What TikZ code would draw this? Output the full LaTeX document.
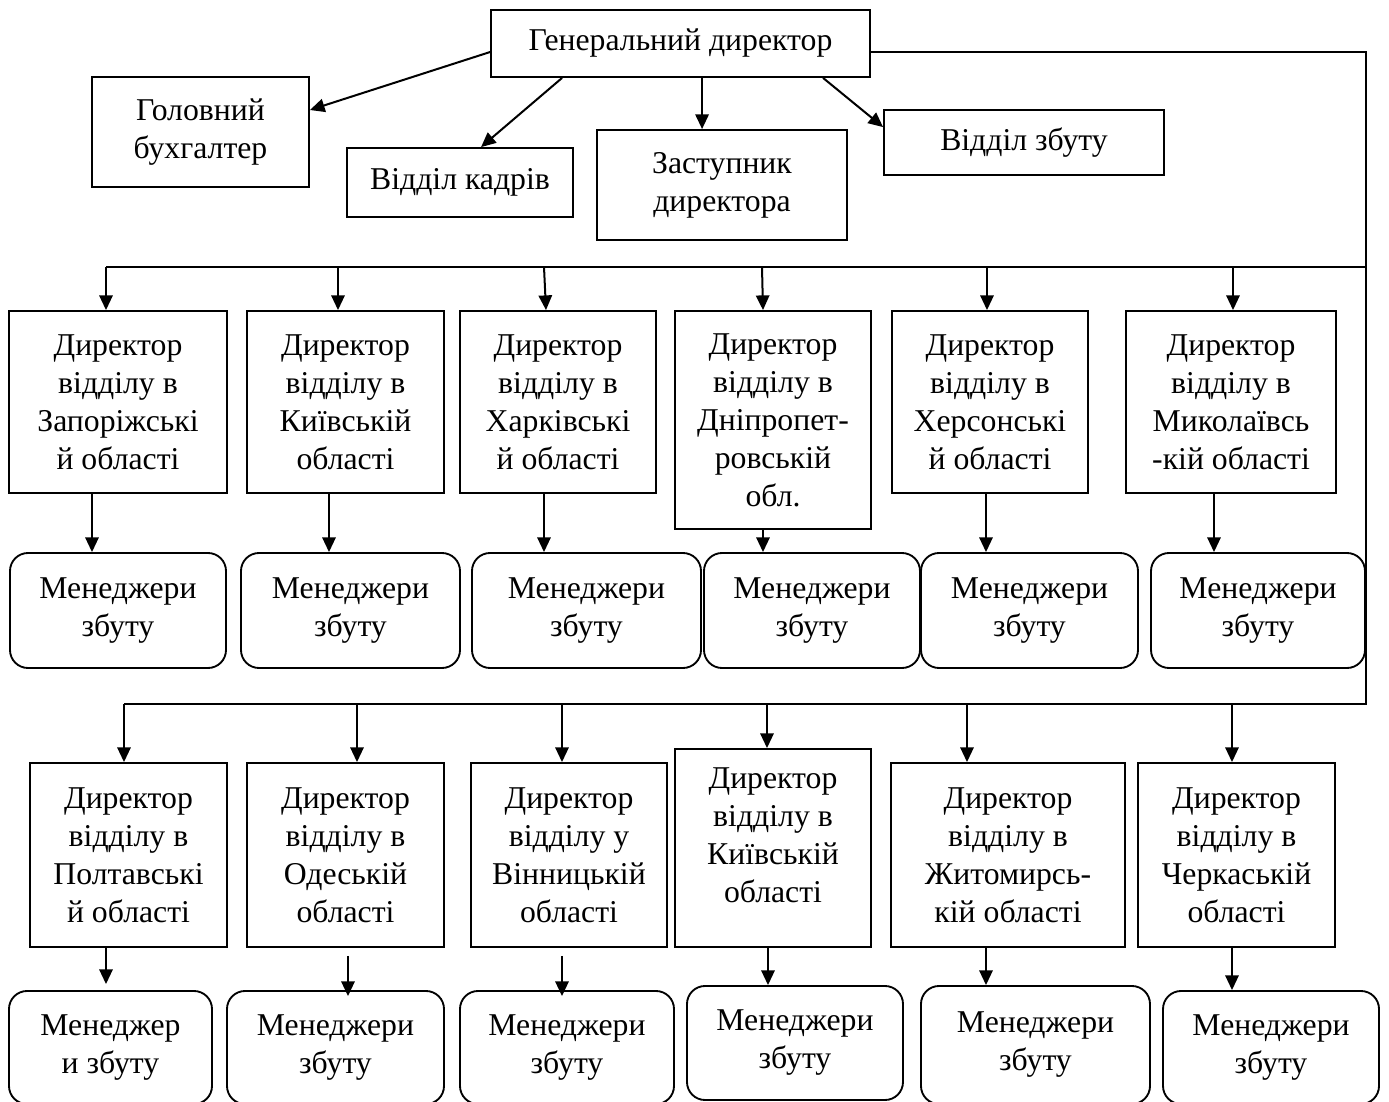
\documentclass[tikz,border=0pt]{standalone}
\usepackage{fontspec}
\setmainfont{Liberation Serif}
\usetikzlibrary{arrows.meta,calc}
\newcommand{\rbox}[7][bx]{\node[#1, minimum width={(#4-#2)*0.75pt}, minimum height={(#5-#3)*0.75pt}] (#6) at ({(#2+#4)/2},{(#3+#5)/2}) {#7};}
\begin{document}
\begin{tikzpicture}[x=0.75pt,y=-0.75pt,
  bx/.style={draw, line width=1.4pt, inner sep=0pt, align=center, font=\fontsize{23.8}{28.5}\selectfont},
  mg/.style={bx, rounded corners=13.5pt},
  ln/.style={line width=1.5pt},
  arr/.style={ln, -{Triangle[length=11pt,width=10pt]}}]
\useasboundingbox (0,0) rectangle (1389,1102);
% top level
\rbox{491}{10}{870}{77}{gd}{Генеральний директор}
\rbox{92}{77}{309}{187}{gb}{Головний\\бухгалтер}
\rbox{347}{148}{573}{217}{vk}{Відділ кадрів}
\rbox{597}{130}{847}{240}{zd}{Заступник\\директора}
\rbox{884}{110}{1164}{175}{vz}{Відділ збуту}
\draw[arr] ([yshift=-6.4pt]gd.west) -- ([yshift=16.5pt]gb.east);
\draw[arr] ($(gd.south west)+(72,0)$) -- ($(vk.north west)+(135,0)$);
\draw[arr] ($(gd.south west)+(212,0)$) -- ($(zd.north west)+(106,0)$);
\draw[arr] ($(gd.south west)+(333,0)$) -- ($(vz.north west)+(0,18)$);
% buses
\coordinate (c2) at (1366,267);
\coordinate (c3) at (1366,704);
\coordinate (l2) at (106,267);
\coordinate (l3) at (124,704);
\draw[ln] ([yshift=-6.4pt]gd.east) -| (c3) -- (l3);
\draw[ln] (c2) -- (l2);
% row 2 directors
\rbox{9}{311}{227}{493}{a1}{Директор\\відділу в\\Запоріжські\\й області}
\rbox{247}{311}{444}{493}{a2}{Директор\\відділу в\\Київській\\області}
\rbox{460}{311}{656}{493}{a3}{Директор\\відділу в\\Харківські\\й області}
\rbox{675}{311}{871}{529}{a4}{Директор\\відділу в\\Дніпропет-\\ровській\\обл.}
\rbox{892}{311}{1088}{493}{a5}{Директор\\відділу в\\Херсонські\\й області}
\rbox{1126}{311}{1336}{493}{a6}{Директор\\відділу в\\Миколаївсь\\-кій області}
% row 2 managers
\rbox[mg]{10}{553}{226}{668}{m1}{Менеджери\\збуту}
\rbox[mg]{241}{553}{460}{668}{m2}{Менеджери\\збуту}
\rbox[mg]{472}{553}{701}{668}{m3}{Менеджери\\збуту}
\rbox[mg]{704}{553}{920}{668}{m4}{Менеджери\\збуту}
\rbox[mg]{921}{553}{1138}{668}{m5}{Менеджери\\збуту}
\rbox[mg]{1151}{553}{1365}{668}{m6}{Менеджери\\збуту}
% row 2 drops
\draw[arr] (106,267) -- (106,0 |- a1.north);
\draw[arr] (338,267) -- (338,0 |- a2.north);
\draw[arr] (544,267) -- (546,0 |- a3.north);
\draw[arr] (762,267) -- (763,0 |- a4.north);
\draw[arr] (987,267) -- (987,0 |- a5.north);
\draw[arr] (1233,267) -- (1233,0 |- a6.north);
\draw[arr] (92,0 |- a1.south) -- (92,0 |- m1.north);
\draw[arr] (329,0 |- a2.south) -- (329,0 |- m2.north);
\draw[arr] (544,0 |- a3.south) -- (544,0 |- m3.north);
\draw[arr] (763,0 |- a4.south) -- (763,0 |- m4.north);
\draw[arr] (986,0 |- a5.south) -- (986,0 |- m5.north);
\draw[arr] (1214,0 |- a6.south) -- (1214,0 |- m6.north);
% row 3 directors
\rbox{30}{763}{227}{947}{b1}{Директор\\відділу в\\Полтавські\\й області}
\rbox{247}{763}{444}{947}{b2}{Директор\\відділу в\\Одеській\\області}
\rbox{471}{763}{667}{947}{b3}{Директор\\відділу у\\Вінницькій\\області}
\rbox{675}{749}{871}{947}{b4}{Директор\\відділу в\\Київській\\області\\[-9pt]\mbox{}}
\rbox{891}{763}{1125}{947}{b5}{Директор\\відділу в\\Житомирсь-\\кій області}
\rbox{1138}{763}{1335}{947}{b6}{Директор\\відділу в\\Черкаській\\області}
% row 3 managers
\rbox[mg]{9}{991}{212}{1104}{n1}{Менеджер\\и збуту}
\rbox[mg]{227}{991}{444}{1104}{n2}{Менеджери\\збуту}
\rbox[mg]{460}{991}{674}{1104}{n3}{Менеджери\\збуту}
\rbox[mg]{687}{986}{903}{1100}{n4}{Менеджери\\збуту}
\rbox[mg]{921}{986}{1150}{1104}{n5}{Менеджери\\збуту}
\rbox[mg]{1163}{991}{1379}{1104}{n6}{Менеджери\\збуту}
% row 3 drops
\draw[arr] (124,704) -- (124,0 |- b1.north);
\draw[arr] (357,704) -- (357,0 |- b2.north);
\draw[arr] (562,704) -- (562,0 |- b3.north);
\draw[arr] (767,704) -- (767,0 |- b4.north);
\draw[arr] (967,704) -- (967,0 |- b5.north);
\draw[arr] (1232,704) -- (1232,0 |- b6.north);
\draw[arr] (106,0 |- b1.south) -- ($(106,0 |- n1.north)+(0,-6)$);
\draw[arr] ($(348,0 |- b2.south)+(0,8)$) -- ($(348,0 |- n2.north)+(0,6)$);
\draw[arr] ($(562,0 |- b3.south)+(0,8)$) -- ($(562,0 |- n3.north)+(0,6)$);
\draw[arr] (768,0 |- b4.south) -- (768,0 |- n4.north);
\draw[arr] (986,0 |- b5.south) -- (986,0 |- n5.north);
\draw[arr] (1232,0 |- b6.south) -- (1232,0 |- n6.north);
\end{tikzpicture}
\end{document}
